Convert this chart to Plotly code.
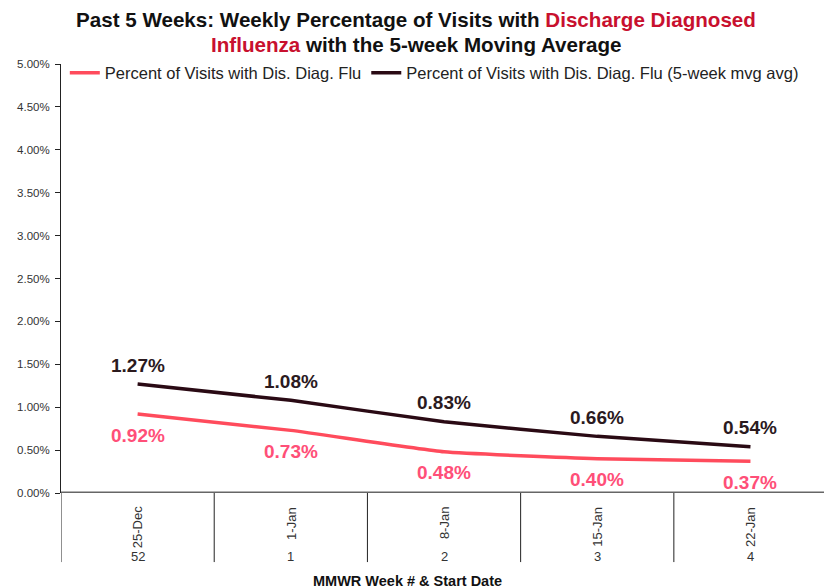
import plotly.graph_objects as go

dates = ["25-Dec", "1-Jan", "8-Jan", "15-Jan", "22-Jan"]
weeks = ["52", "1", "2", "3", "4"]
pct_flu = [0.0092, 0.0073, 0.0048, 0.0040, 0.0037]
pct_flu_avg = [0.0127, 0.0108, 0.0083, 0.0066, 0.0054]
name_flu = "Percent of Visits with Dis. Diag. Flu"
name_avg = "Percent of Visits with Dis. Diag. Flu (5-week mvg avg)"

PINK = "#FF4B5C"
PINK_TXT = "#FF4F78"
DARK = "#2A0A14"
RED = "#C8102E"
FONT = "Liberation Sans Narrow, Arial Narrow, Arial, sans-serif"
AFONT = "Arial, Liberation Sans, sans-serif"

x = list(range(len(dates)))
fig = go.Figure()
fig.add_trace(go.Scatter(x=x, y=pct_flu, mode="lines", name=name_flu,
                         line=dict(color=PINK, width=3.5, shape="spline", smoothing=0.4)))
fig.add_trace(go.Scatter(x=x, y=pct_flu_avg, mode="lines", name=name_avg,
                         line=dict(color=DARK, width=3.5, shape="spline", smoothing=0.4)))

for i in x:
    fig.add_annotation(x=i, y=pct_flu_avg[i], text=f"<b>{pct_flu_avg[i]*100:.2f}%</b>",
                       showarrow=False, yshift=19,
                       font=dict(family=AFONT, size=19, color="#2B1A1E"))
    fig.add_annotation(x=i, y=pct_flu[i], text=f"<b>{pct_flu[i]*100:.2f}%</b>",
                       showarrow=False, yshift=-21,
                       font=dict(family=AFONT, size=19, color=PINK_TXT))
    fig.add_annotation(x=i, xref="x", y=-0.027, yref="paper", text=dates[i], textangle=-90,
                       showarrow=False, yanchor="top",
                       font=dict(family=AFONT, size=13, color="#333"))
    fig.add_annotation(x=i, xref="x", y=-0.149, yref="paper", text=weeks[i],
                       showarrow=False, yanchor="middle",
                       font=dict(family=AFONT, size=13, color="#333"))

for i in range(len(dates) + 1):
    fig.add_shape(type="line", x0=i - 0.5, x1=i - 0.5, xref="x", y0=0, y1=-0.161, yref="paper",
                  line=dict(color="#222", width=1))

fig.add_annotation(x=0.4535, xref="paper", y=-0.206, yref="paper", yanchor="middle",
                   text="<b>MMWR Week # &amp; Start Date</b>", showarrow=False,
                   font=dict(family=FONT, size=14.5, color="#111"))

fig.add_annotation(x=0.465, xref="paper", y=1.1026, yref="paper", yanchor="middle",
                   text=f"<b>Past 5 Weeks: Weekly Percentage of Visits with <span style='color:{RED}'>Discharge Diagnosed</span></b>",
                   showarrow=False, font=dict(family=FONT, size=20.6, color="#111"))
fig.add_annotation(x=0.465, xref="paper", y=1.0443, yref="paper", yanchor="middle",
                   text=f"<b><span style='color:{RED}'>Influenza</span> with the 5-week Moving Average</b>",
                   showarrow=False, font=dict(family=FONT, size=20.6, color="#111"))

fig.update_layout(
    width=824, height=588,
    margin=dict(l=61, r=0, t=64, b=95),
    paper_bgcolor="white", plot_bgcolor="white",
    legend=dict(orientation="h", x=0.005, xanchor="left", y=1.02, yanchor="top",
                bgcolor="rgba(0,0,0,0)", font=dict(family=FONT, size=16.5, color="#222"),
                itemwidth=30, tracegroupgap=0),
    showlegend=True,
)
fig.update_xaxes(range=[-0.5, 4.48], showticklabels=False, showgrid=False, zeroline=False,
                 showline=False, ticks="")
fig.update_yaxes(range=[0, 0.05], dtick=0.005, tickformat=".2%", showgrid=False, zeroline=False,
                 showline=True, linecolor="#222", linewidth=1, ticks="outside", ticklen=5,
                 ticklabelstandoff=3,
                 tickcolor="#222", tickfont=dict(family=AFONT, size=11.5, color="#333"))
fig.add_shape(type="line", x0=0, x1=1, xref="paper", y0=0, y1=0, yref="y",
              line=dict(color="#666", width=3))

fig.write_html("out.html", config={"displayModeBar": False},
               post_script="document.body.style.margin='0';document.body.style.overflow='hidden';")
